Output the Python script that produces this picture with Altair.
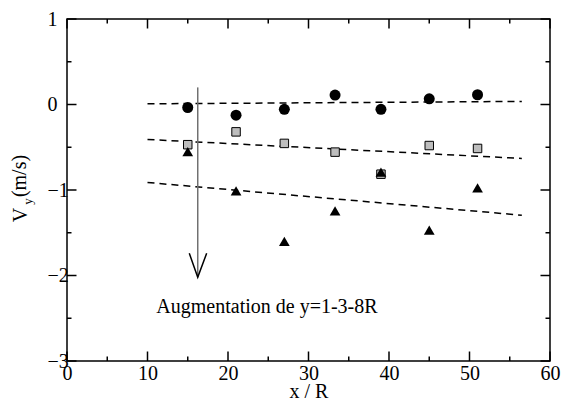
import altair as alt
import pandas as pd

# ---- data ----
x_pos = [15, 21, 27, 33.3, 39, 45, 51]
vy_circle = [-0.035, -0.125, -0.057, 0.11, -0.057, 0.067, 0.114]
vy_square = [-0.47, -0.32, -0.455, -0.557, -0.815, -0.48, -0.514]
vy_triangle = [-0.55, -1.01, -1.60, -1.245, -0.79, -1.47, -0.975]

fit_x = [10, 56.5]
fit_circle = [0.008, 0.036]
fit_square = [-0.409, -0.631]
fit_triangle = [-0.912, -1.295]

arrow_x = [16.24, 16.24]
arrow_y = [0.2, -2.02]
head_x = [15.19, 16.24, 17.35]
head_y = [-1.74, -2.02, -1.74]

note_text = ["Augmentation de y=1-3-8R"]
note_x = [11.1]
note_y = [-2.44]

x_major = [0, 10, 20, 30, 40, 50, 60]
x_minor = [5, 15, 25, 35, 45, 55]
y_major = [-3, -2, -1, 0, 1]
y_minor = [-2.5, -1.5, -0.5, 0.5]

W, H = 483, 342
FONT = "Liberation Serif"
FS = 20

xs = alt.Scale(domain=[0, 60], nice=False, zero=False)
ys = alt.Scale(domain=[-3, 1], nice=False, zero=False)

x_axis = alt.Axis(values=x_major, title="x / R", labelFont=FONT, labelFontSize=FS,
                  titleFont=FONT, titleFontSize=FS, titleFontWeight="normal",
                  ticks=False, tickSize=0, domain=False, grid=False,
                  labelPadding=2, titlePadding=-2, labelOverlap=False, labelFlush=False,
                  labelColor="black", titleColor="black")
y_axis = alt.Axis(values=y_major, title=None, labelFont=FONT, labelFontSize=FS,
                  ticks=False, tickSize=0, domain=False, grid=False,
                  labelPadding=20, labelAlign="left", labelOverlap=False, labelFlush=False,
                  labelColor="black", format="d")


def X(field):
    return alt.X(field, type="quantitative", scale=xs, axis=x_axis)


def Y(field):
    return alt.Y(field, type="quantitative", scale=ys, axis=y_axis)


pts = pd.DataFrame({"x": x_pos, "c": vy_circle, "s": vy_square, "t": vy_triangle})
base = alt.Chart(pts)

circles = base.mark_point(shape="circle", filled=True, size=121, color="black", opacity=1).encode(
    x=X("x"), y=Y("c"))
squares = base.mark_point(shape="square", filled=True, size=72, fill="#bdbdbd",
                          stroke="black", strokeWidth=1, opacity=1).encode(x=X("x"), y=Y("s"))
triangles = base.mark_point(shape="triangle-up", filled=True, size=115, color="black",
                            opacity=1).encode(x=X("x"), y=Y("t"))

fits = pd.DataFrame({"x": fit_x, "c": fit_circle, "s": fit_square, "t": fit_triangle})
fit_layers = [
    alt.Chart(fits).mark_line(color="black", strokeWidth=1.5, strokeDash=[7, 5]).encode(
        x=X("x"), y=Y(col))
    for col in ["c", "s", "t"]
]

shaft = alt.Chart(pd.DataFrame({"x": arrow_x, "y": arrow_y})).mark_line(
    color="#707070", strokeWidth=1.5).encode(x=X("x"), y=Y("y"))
head = alt.Chart(pd.DataFrame({"x": head_x, "y": head_y, "o": [0, 1, 2]})).mark_line(
    color="black", strokeWidth=1.5).encode(x=X("x"), y=Y("y"), order="o:Q")

note = alt.Chart(pd.DataFrame({"x": note_x, "y": note_y, "t": note_text})).mark_text(
    font=FONT, fontSize=FS, align="left", baseline="alphabetic", color="black").encode(
    x=X("x"), y=Y("y"), text="t:N")

# inward ticks on all four sides
dxM = pd.DataFrame({"v": x_major})
dxm = pd.DataFrame({"v": x_minor})
dyM = pd.DataFrame({"v": y_major})
dym = pd.DataFrame({"v": y_minor})
MAJ, MIN = 9.5, 4.5
tick_layers = []
for d, ln in [(dxM, MAJ), (dxm, MIN)]:
    tick_layers.append(alt.Chart(d).mark_rule(color="black", strokeWidth=1.5).encode(
        x=X("v"), y=alt.value(H), y2=alt.value(H - ln)))
    tick_layers.append(alt.Chart(d).mark_rule(color="black", strokeWidth=1.5).encode(
        x=X("v"), y=alt.value(0), y2=alt.value(ln)))
for d, ln in [(dyM, MAJ), (dym, MIN)]:
    tick_layers.append(alt.Chart(d).mark_rule(color="black", strokeWidth=1.5).encode(
        y=Y("v"), x=alt.value(0), x2=alt.value(ln)))
    tick_layers.append(alt.Chart(d).mark_rule(color="black", strokeWidth=1.5).encode(
        y=Y("v"), x=alt.value(W), x2=alt.value(W - ln)))

# y-axis title "V_y (m/s)" with subscript
ytitle_V = alt.Chart(pd.DataFrame({"t": ["V"]})).mark_text(
    font=FONT, fontSize=FS, angle=270, align="center", baseline="alphabetic",
    color="black").encode(x=alt.value(-40), y=alt.value(196), text="t:N")
ytitle_unit = alt.Chart(pd.DataFrame({"t": ["(m/s)"]})).mark_text(
    font=FONT, fontSize=FS, angle=270, align="center", baseline="alphabetic",
    color="black").encode(x=alt.value(-41), y=alt.value(157), text="t:N")
ytitle_sub = alt.Chart(pd.DataFrame({"t": ["y"]})).mark_text(
    font=FONT, fontSize=13, angle=270, align="center", baseline="alphabetic",
    color="black").encode(x=alt.value(-35), y=alt.value(182.5), text="t:N")

chart = alt.layer(
    circles, *fit_layers, shaft, head, squares, triangles, note, *tick_layers,
    ytitle_V, ytitle_unit, ytitle_sub
).properties(
    width=W, height=H,
    background="white",
    autosize=alt.AutoSizeParams(type="none"),
    padding={"left": 59, "top": 11, "right": 12, "bottom": 40},
).configure_view(
    stroke="black", strokeWidth=1.5
).configure_axis(
    labelFont=FONT, labelFontSize=FS, titleFont=FONT, titleFontSize=FS,
    titleFontWeight="normal"
)

chart.save("out.html", embed_options={"renderer": "svg", "actions": False})
